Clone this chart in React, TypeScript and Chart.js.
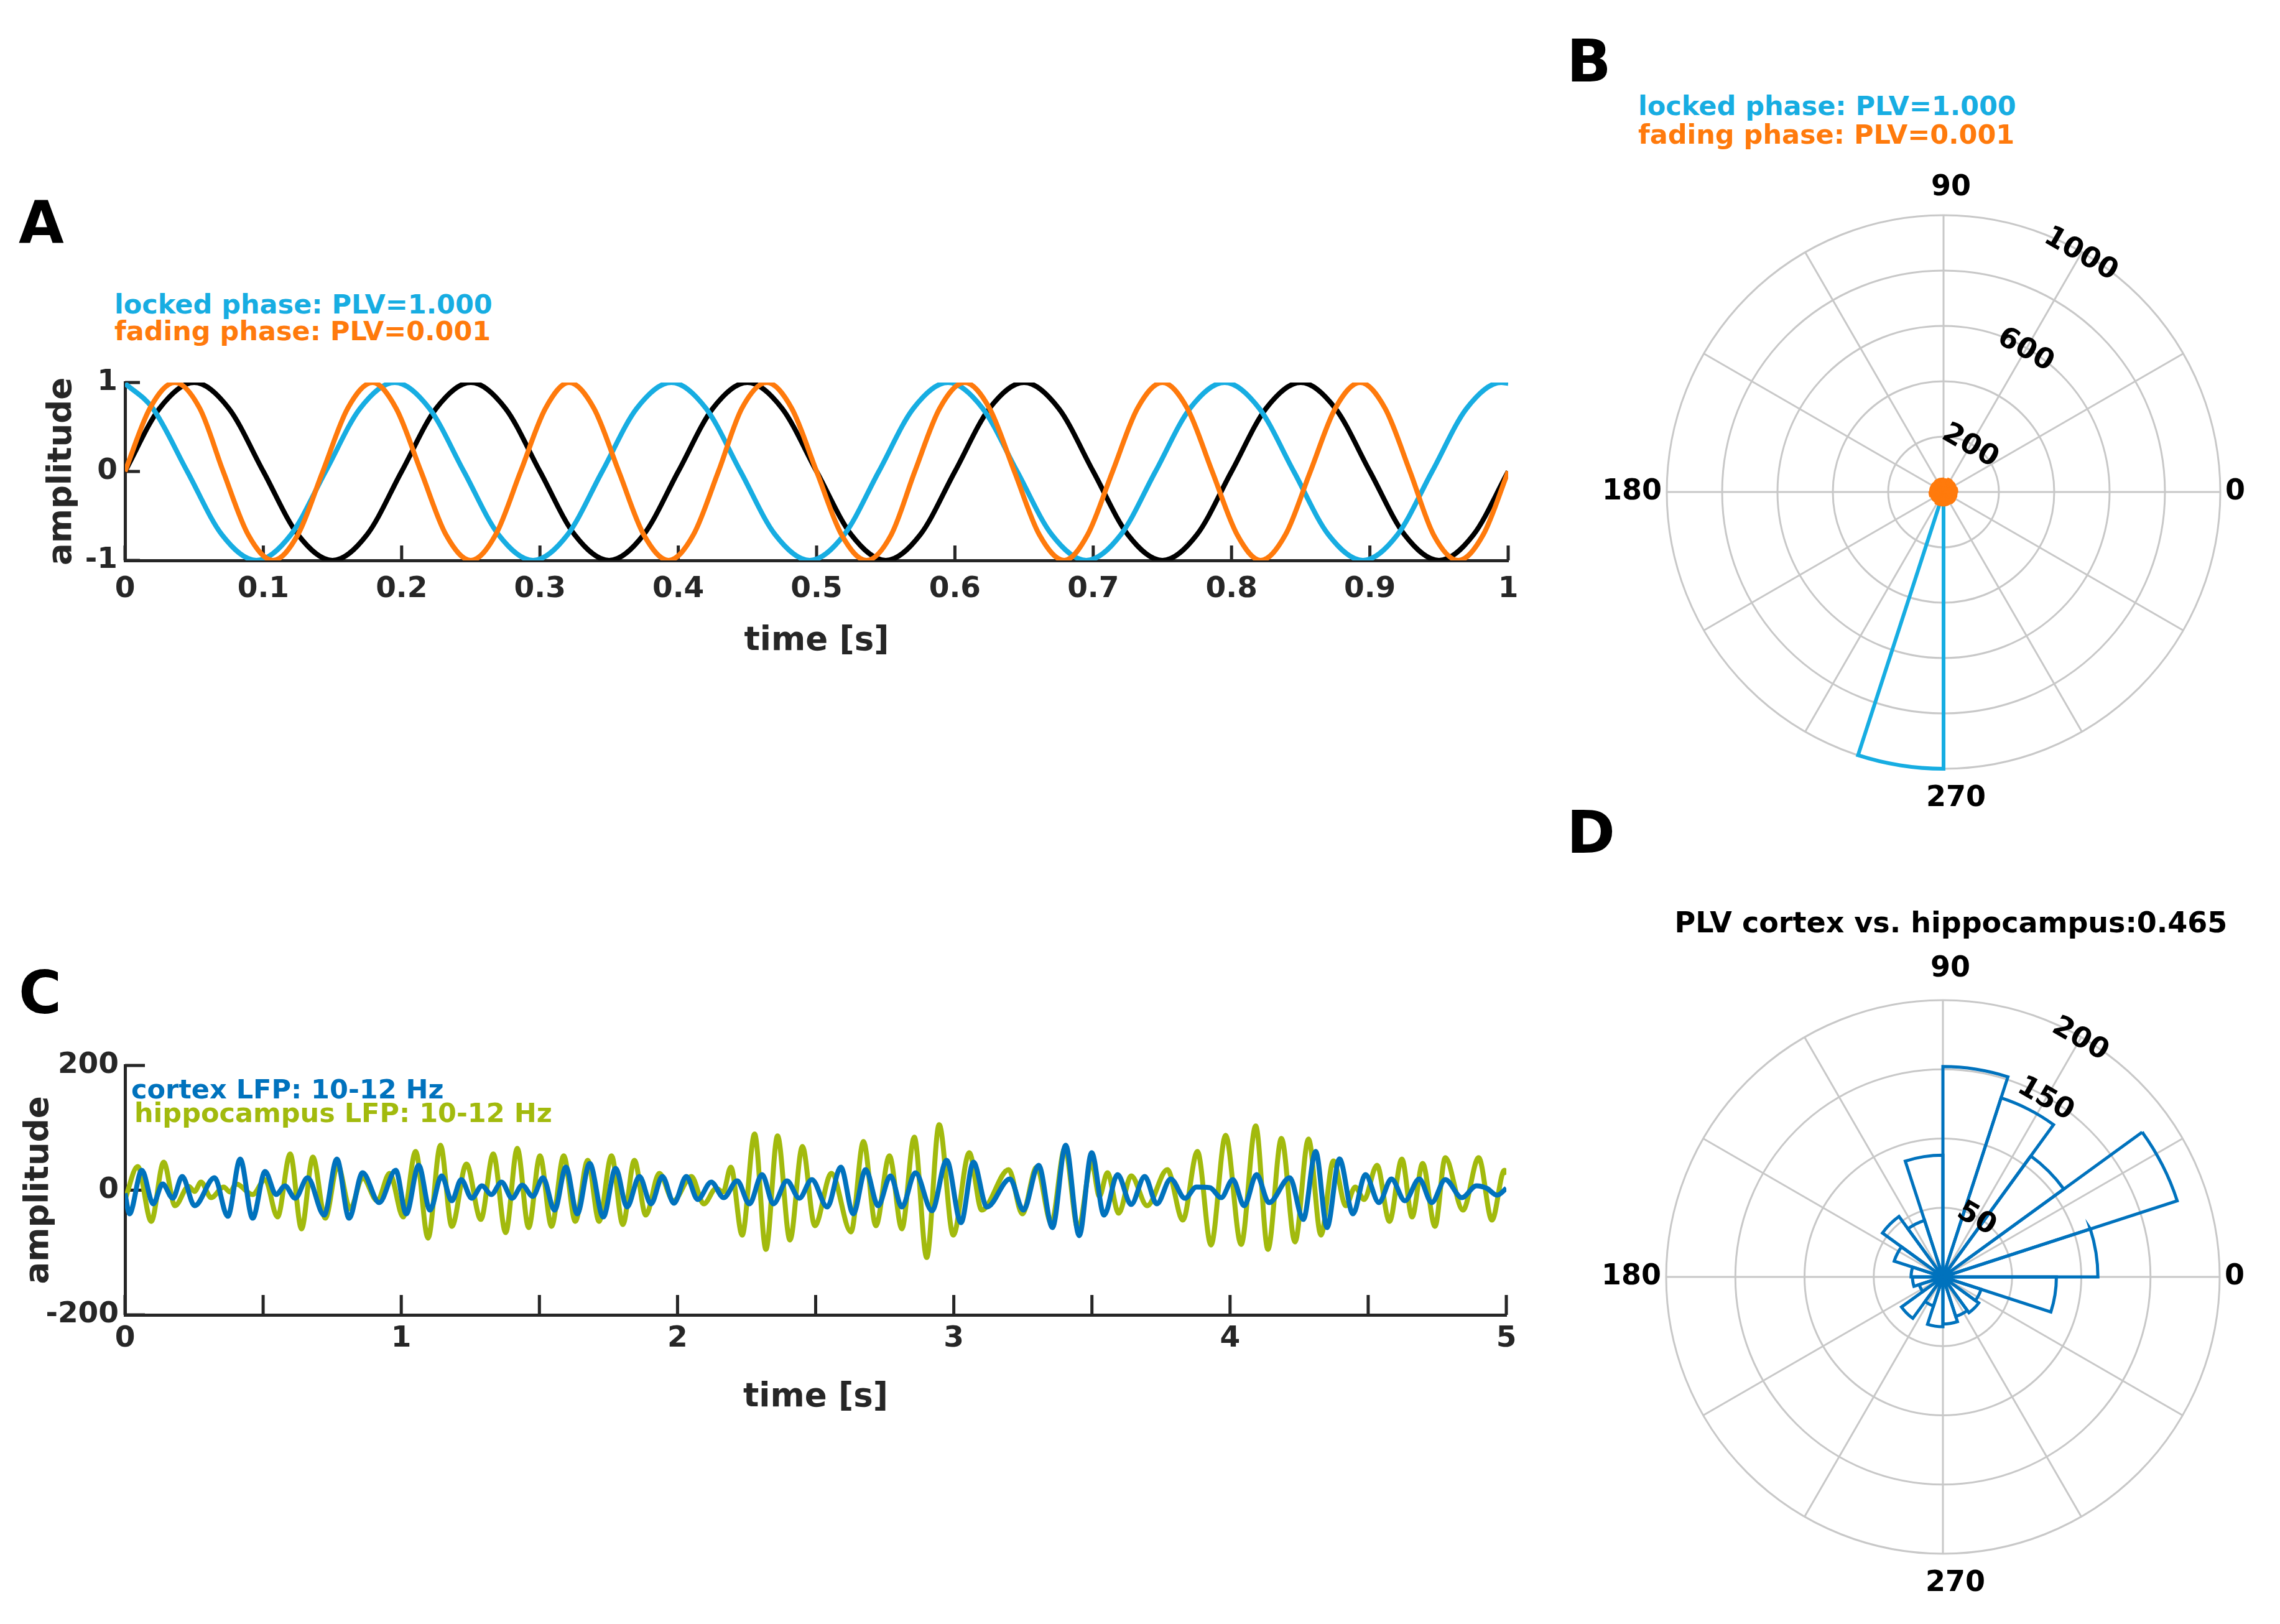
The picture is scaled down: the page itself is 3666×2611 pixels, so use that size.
import React, { useEffect, useRef } from 'react';
import { Chart, registerables } from 'chart.js';

Chart.register(...registerables);

const FONT = "'DejaVu Sans', Verdana, sans-serif";
const AXIS = '#262626';
const GRID = '#C8C8C8';
const CYAN = '#17ADE2';
const ORANGE = '#FF7A0C';
const BLUE = '#0072BD';
const OLIVE = '#A2BA0D';

// ---------- Panel A: 5 Hz reference, locked phase, fading phase (samples read every 1/8 cycle) ----------
const aBlackT = [
  0, 0.025, 0.05, 0.075, 0.1, 0.125, 0.15, 0.175,
  0.2, 0.225, 0.25, 0.275, 0.3, 0.325, 0.35, 0.375,
  0.4, 0.425, 0.45, 0.475, 0.5, 0.525, 0.55, 0.575,
  0.6, 0.625, 0.65, 0.675, 0.7, 0.725, 0.75, 0.775,
  0.8, 0.825, 0.85, 0.875, 0.9, 0.925, 0.95, 0.975,
  1.0,
];
const aBlackV = [
  0, 0.71, 1, 0.71, 0, -0.71, -1, -0.71,
  0, 0.71, 1, 0.71, 0, -0.71, -1, -0.71,
  0, 0.71, 1, 0.71, 0, -0.71, -1, -0.71,
  0, 0.71, 1, 0.71, 0, -0.71, -1, -0.71,
  0, 0.71, 1, 0.71, 0, -0.71, -1, -0.71,
  0,
];
const aCyanT = [
  0,
  0.02, 0.045, 0.07, 0.095, 0.12, 0.145, 0.17, 0.195,
  0.22, 0.245, 0.27, 0.295, 0.32, 0.345, 0.37, 0.395,
  0.42, 0.445, 0.47, 0.495, 0.52, 0.545, 0.57, 0.595,
  0.62, 0.645, 0.67, 0.695, 0.72, 0.745, 0.77, 0.795,
  0.82, 0.845, 0.87, 0.895, 0.92, 0.945, 0.97, 0.995,
  1.0,
];
const aCyanV = [
  0.99,
  0.71, 0, -0.71, -1, -0.71, 0, 0.71, 1,
  0.71, 0, -0.71, -1, -0.71, 0, 0.71, 1,
  0.71, 0, -0.71, -1, -0.71, 0, 0.71, 1,
  0.71, 0, -0.71, -1, -0.71, 0, 0.71, 1,
  0.71, 0, -0.71, -1, -0.71, 0, 0.71, 1,
  0.99,
];
const aOrangeT = [
  0, 0.018, 0.036, 0.054, 0.071, 0.089, 0.107, 0.125,
  0.143, 0.161, 0.179, 0.196, 0.214, 0.232, 0.25, 0.268,
  0.286, 0.304, 0.321, 0.339, 0.357, 0.375, 0.393, 0.411,
  0.429, 0.446, 0.464, 0.482, 0.5, 0.518, 0.536, 0.554,
  0.571, 0.589, 0.607, 0.625, 0.643, 0.661, 0.679, 0.696,
  0.714, 0.732, 0.75, 0.768, 0.786, 0.804, 0.821, 0.839,
  0.857, 0.875, 0.893, 0.911, 0.929, 0.946, 0.964, 0.982,
  1.0,
];
const aOrangeV = [
  0, 0.71, 1, 0.71, 0, -0.71, -1, -0.71,
  0, 0.71, 1, 0.71, 0, -0.71, -1, -0.71,
  0, 0.71, 1, 0.71, 0, -0.71, -1, -0.71,
  0, 0.71, 1, 0.71, 0, -0.71, -1, -0.71,
  0, 0.71, 1, 0.71, 0, -0.71, -1, -0.71,
  0, 0.71, 1, 0.71, 0, -0.71, -1, -0.71,
  0, 0.71, 1, 0.71, 0, -0.71, -1, -0.71,
  0,
];
const aXTicks = [0, 0.1, 0.2, 0.3, 0.4, 0.5, 0.6, 0.7, 0.8, 0.9, 1];
const aXTickLabels = ['0', '0.1', '0.2', '0.3', '0.4', '0.5', '0.6', '0.7', '0.8', '0.9', '1'];
const aYTicks = [-1, 0, 1];
const aYTickLabels = ['-1', '0', '1'];

// ---------- Panel C: cortex / hippocampus LFP (extrema) ----------
const cCortexT = [
  0, 0.016, 0.061, 0.102, 0.136, 0.173, 0.207, 0.252, 0.324, 0.372,
  0.417, 0.462, 0.507, 0.547, 0.579, 0.616, 0.661, 0.721, 0.767, 0.811,
  0.860, 0.920, 0.980, 1.018, 1.063, 1.104, 1.146, 1.183, 1.217, 1.255,
  1.292, 1.326, 1.363, 1.401, 1.438, 1.476, 1.513, 1.555, 1.596, 1.637,
  1.682, 1.731, 1.776, 1.817, 1.862, 1.904, 1.945, 1.987, 2.032, 2.073,
  2.122, 2.167, 2.216, 2.260, 2.306, 2.347, 2.396, 2.441, 2.486, 2.542,
  2.591, 2.636, 2.681, 2.726, 2.771, 2.812, 2.861, 2.921, 2.974, 3.026,
  3.071, 3.120, 3.203, 3.252, 3.307, 3.357, 3.405, 3.454, 3.499, 3.544,
  3.593, 3.642, 3.691, 3.735, 3.785, 3.837, 3.878, 3.927, 3.968, 4.010,
  4.051, 4.096, 4.141, 4.216, 4.265, 4.310, 4.351, 4.396, 4.445, 4.490,
  4.539, 4.584, 4.633, 4.685, 4.730, 4.779, 4.839, 4.892, 4.929, 4.967,
  5.0,
];
const cCortexV = [
  -5, -38, 32, -22, 10, -13, 22, -25, 20, -42,
  50, -45, 30, -7, 7, -13, 20, -40, 50, -45,
  28, -20, 32, -38, 40, -32, 23, -17, 17, -13,
  7, -7, 13, -13, 8, -10, 20, -32, 37, -38,
  43, -43, 35, -27, 22, -22, 22, -21, 22, -15,
  13, -12, 15, -22, 25, -22, 15, -13, 17, -27,
  37, -38, 33, -25, 23, -27, 28, -33, 48, -52,
  45, -27, 18, -32, 40, -60, 72, -73, 60, -40,
  25, -23, 22, -22, 18, -13, 5, 4, -12, 17,
  -25, 25, -20, 20, -47, 62, -60, 50, -38, 25,
  -20, 18, -17, 18, -20, 17, -12, 7, 3, -8,
  3,
];
const cHippoT = [
  0.000, 0.046, 0.095, 0.140, 0.181, 0.230, 0.252, 0.275, 0.312, 0.357,
  0.380, 0.402, 0.462, 0.507, 0.552, 0.598, 0.639, 0.680, 0.725, 0.770,
  0.815, 0.860, 0.913, 0.958, 1.007, 1.052, 1.097, 1.142, 1.183, 1.236,
  1.288, 1.333, 1.378, 1.420, 1.461, 1.502, 1.544, 1.588, 1.630, 1.675,
  1.716, 1.761, 1.802, 1.844, 1.885, 1.934, 1.985, 2.050, 2.095, 2.140,
  2.165, 2.193, 2.234, 2.279, 2.320, 2.362, 2.407, 2.452, 2.497, 2.557,
  2.628, 2.673, 2.718, 2.767, 2.812, 2.857, 2.902, 2.947, 2.998, 3.056,
  3.101, 3.199, 3.248, 3.300, 3.353, 3.402, 3.450, 3.499, 3.527, 3.556,
  3.597, 3.642, 3.700, 3.773, 3.829, 3.882, 3.931, 3.984, 4.040, 4.093,
  4.137, 4.186, 4.235, 4.284, 4.329, 4.374, 4.419, 4.453, 4.485, 4.532,
  4.577, 4.622, 4.659, 4.697, 4.742, 4.779, 4.843, 4.900, 4.948, 4.993,
  5.000,
];
const cHippoV = [
  -15, 38, -50, 45, -25, 6, -2, 13, -12, 5,
  -3, 10, -7, 17, -43, 58, -62, 53, -45, 40,
  -30, 20, -17, 27, -43, 62, -77, 72, -58, 42,
  -47, 58, -68, 67, -60, 55, -58, 55, -50, 48,
  -50, 55, -55, 48, -40, 27, -17, 22, -22, 3,
  -3, 37, -72, 90, -95, 87, -80, 70, -57, 27,
  -67, 78, -57, 55, -62, 85, -108, 105, -72, 60,
  -32, 33, -38, 37, -53, 67, -63, 45, -10, 28,
  -37, 23, -25, 33, -48, 62, -88, 88, -87, 103,
  -95, 83, -83, 82, -72, 47, -25, 5, -15, 40,
  -50, 50, -43, 43, -58, 52, -32, 52, -48, 32,
  25,
];
const cXTicks = [0, 1, 2, 3, 4, 5];
const cXTickLabels = ['0', '1', '2', '3', '4', '5'];
const cXTickMarks = [0, 0.5, 1, 1.5, 2, 2.5, 3, 3.5, 4, 4.5, 5];
const cYTicks = [-200, 0, 200];
const cYTickLabels = ['-200', '0', '200'];

// ---------- Polar histograms (20 bins of 18 deg, counter-clockwise from 0) ----------
const binStarts = ['0', '18', '36', '54', '72', '90', '108', '126', '144', '162', '180', '198', '216', '234', '252', '270', '288', '306', '324', '342'];
const bLocked = [0, 0, 0, 0, 0, 0, 0, 0, 0, 0, 0, 0, 0, 0, 1000, 0, 0, 0, 0, 0];
const bFading = [51, 49, 50, 52, 48, 50, 51, 49, 50, 50, 52, 49, 48, 51, 50, 50, 49, 51, 50, 49];
const dCounts = [112, 178, 108, 136, 152, 88, 43, 54, 37, 23, 22, 18, 37, 22, 36, 34, 30, 32, 29, 82];
const bRTicks = [200, 600, 1000];
const bRTickLabels = ['200', '600', '1000'];
const dRTicks = [50, 150, 200];
const dRTickLabels = ['50', '150', '200'];
const angleLabels = ['0', '90', '180', '270'];
const SPOKES = [0, 30, 60, 90, 120, 150, 180, 210, 240, 270, 300, 330];

const rev = <T,>(a: T[]) => a.slice().reverse();
const pts = (t: number[], v: number[]) => t.map((x, i) => ({ x, y: v[i] }));

function inwardTicks(xVals: number[], yVals: number[], len: number) {
  return {
    id: 'inwardTicks',
    beforeDatasetsDraw(chart: any) {
      const { ctx, chartArea, scales } = chart;
      ctx.save();
      ctx.strokeStyle = AXIS;
      ctx.lineWidth = 5;
      ctx.beginPath();
      xVals.forEach((v) => {
        const x = scales.x.getPixelForValue(v);
        ctx.moveTo(x, chartArea.bottom);
        ctx.lineTo(x, chartArea.bottom - len);
      });
      yVals.forEach((v) => {
        const y = scales.y.getPixelForValue(v);
        ctx.moveTo(chartArea.left, y);
        ctx.lineTo(chartArea.left + len, y);
      });
      ctx.stroke();
      ctx.restore();
    },
  };
}

function lineConfig(p: any) {
  const tickFont = { family: FONT, size: 47, weight: 'bold' as const };
  const titleFont = { family: FONT, size: 53, weight: 'bold' as const };
  return {
    type: 'line' as const,
    data: { datasets: p.datasets },
    options: {
      animation: false as const,
      responsive: false,
      devicePixelRatio: 1,
      layout: { padding: { left: 0, top: p.padTop, right: p.padRight, bottom: 0 } },
      plugins: { legend: { display: false }, tooltip: { enabled: false }, title: { display: false } },
      elements: { point: { radius: 0 } },
      scales: {
        x: {
          type: 'linear' as const,
          min: p.xMin,
          max: p.xMax,
          afterBuildTicks: (s: any) => { s.ticks = p.xTicks.map((v: number) => ({ value: v })); },
          afterFit: (s: any) => { s.height = p.bottomH; },
          ticks: { callback: (_v: any, i: number) => p.xLabels[i], padding: p.xTickPad, autoSkip: false, maxRotation: 0, font: tickFont, color: AXIS },
          grid: { display: false, drawTicks: false },
          border: { display: true, color: AXIS, width: 5 },
          title: { display: true, text: 'time [s]', font: titleFont, color: AXIS, padding: { top: 0, bottom: p.xTitlePad } },
        },
        y: {
          type: 'linear' as const,
          min: p.yMin,
          max: p.yMax,
          afterBuildTicks: (s: any) => { s.ticks = p.yTicks.map((v: number) => ({ value: v })); },
          afterFit: (s: any) => { s.width = p.leftW; },
          ticks: { callback: (_v: any, i: number) => p.yLabels[i], padding: p.yTickPad, font: tickFont, color: AXIS },
          grid: { display: false, drawTicks: false },
          border: { display: true, color: AXIS, width: 5 },
          title: { display: true, text: 'amplitude', font: titleFont, color: AXIS, padding: { top: p.yTitlePad, bottom: 0 } },
        },
      },
    },
    plugins: [inwardTicks(p.tickMarksX, p.tickMarksY, p.tickLen)],
  };
}

function polarDecor(rVals: number[], rLabels: string[], topOff: number) {
  return {
    id: 'polarDecor',
    beforeDatasetsDraw(chart: any) {
      const s = chart.scales.r;
      const ctx = chart.ctx;
      const R = s.getDistanceFromCenterForValue(s.max);
      ctx.save();
      ctx.strokeStyle = GRID;
      ctx.lineWidth = 3;
      ctx.beginPath();
      SPOKES.forEach((a) => {
        const rad = (a * Math.PI) / 180;
        ctx.moveTo(s.xCenter, s.yCenter);
        ctx.lineTo(s.xCenter + R * Math.cos(rad), s.yCenter - R * Math.sin(rad));
      });
      ctx.stroke();
      ctx.restore();
    },
    afterDraw(chart: any) {
      const s = chart.scales.r;
      const ctx = chart.ctx;
      const R = s.getDistanceFromCenterForValue(s.max);
      const xc = s.xCenter;
      const yc = s.yCenter;
      ctx.save();
      ctx.fillStyle = '#000';
      ctx.font = `bold 46px ${FONT}`;
      ctx.textBaseline = 'middle';
      ctx.textAlign = 'left';
      ctx.fillText(angleLabels[0], xc + R + 8, yc);
      ctx.textAlign = 'right';
      ctx.fillText(angleLabels[2], xc - R - 8, yc);
      ctx.textAlign = 'center';
      ctx.fillText(angleLabels[1], xc + 12, yc - R - topOff);
      ctx.fillText(angleLabels[3], xc + 20, yc + R + 48);
      rVals.forEach((v, i) => {
        const d = s.getDistanceFromCenterForValue(v) - 4;
        const a = (60 * Math.PI) / 180;
        ctx.save();
        ctx.translate(xc + d * Math.cos(a), yc - d * Math.sin(a));
        ctx.rotate(Math.PI / 6);
        ctx.textAlign = 'center';
        ctx.textBaseline = 'middle';
        ctx.fillText(rLabels[i], 0, 0);
        ctx.restore();
      });
      ctx.restore();
    },
  };
}

function polarConfig(p: any) {
  return {
    type: 'polarArea' as const,
    data: { labels: rev(binStarts), datasets: p.datasets },
    options: {
      animation: false as const,
      responsive: false,
      devicePixelRatio: 1,
      layout: { padding: p.padding },
      plugins: { legend: { display: false }, tooltip: { enabled: false }, title: { display: false } },
      elements: { arc: { borderJoinStyle: 'miter' as const, borderAlign: 'center' as const } },
      scales: {
        r: {
          min: 0,
          max: p.max,
          startAngle: 90,
          ticks: { display: false, stepSize: p.step },
          grid: { circular: true, color: GRID, lineWidth: 3 },
          angleLines: { display: false },
          pointLabels: { display: false },
        },
      },
    },
    plugins: [polarDecor(p.rVals, p.rLabels, p.topOff)],
  };
}

const T = (props: { children: React.ReactNode; left: number; top: number; size: number; color: string; style?: React.CSSProperties }) => (
  <div
    style={{
      position: 'absolute',
      left: props.left,
      top: props.top,
      fontSize: props.size,
      lineHeight: 1,
      fontWeight: 700,
      color: props.color,
      whiteSpace: 'nowrap',
      fontFamily: FONT,
      ...(props.style || {}),
    }}
  >
    {props.children}
  </div>
);

export default function App() {
  const aRef = useRef<HTMLCanvasElement>(null);
  const bRef = useRef<HTMLCanvasElement>(null);
  const cRef = useRef<HTMLCanvasElement>(null);
  const dRef = useRef<HTMLCanvasElement>(null);

  useEffect(() => {
    const charts: Chart[] = [];
    const aLine = { borderWidth: 8, cubicInterpolationMode: 'monotone', fill: false, pointRadius: 0 };
    charts.push(
      new Chart(aRef.current!, lineConfig({
        datasets: [
          { data: pts(aOrangeT, aOrangeV), borderColor: ORANGE, ...aLine },
          { data: pts(aCyanT, aCyanV), borderColor: CYAN, ...aLine },
          { data: pts(aBlackT, aBlackV), borderColor: '#000000', ...aLine },
        ],
        xMin: 0, xMax: 1, yMin: -1, yMax: 1,
        xTicks: aXTicks, xLabels: aXTickLabels, yTicks: aYTicks, yLabels: aYTickLabels,
        leftW: 201, bottomH: 219, padTop: 55, padRight: 55,
        xTickPad: 19, yTickPad: 12, xTitlePad: 57, yTitlePad: 68,
        tickMarksX: aXTicks, tickMarksY: aYTicks, tickLen: 24,
      }) as any)
    );
    charts.push(
      new Chart(cRef.current!, lineConfig({
        datasets: [
          { data: pts(cCortexT, cCortexV), borderColor: BLUE, borderWidth: 8, cubicInterpolationMode: 'monotone', fill: false, pointRadius: 0 },
          { data: pts(cHippoT, cHippoV), borderColor: OLIVE, borderWidth: 8, cubicInterpolationMode: 'monotone', fill: false, pointRadius: 0 },
        ],
        xMin: 0, xMax: 5, yMin: -200, yMax: 200,
        xTicks: cXTicks, xLabels: cXTickLabels, yTicks: cYTicks, yLabels: cYTickLabels,
        leftW: 201, bottomH: 266, padTop: 53, padRight: 58,
        xTickPad: 11, yTickPad: 10, xTitlePad: 101, yTitlePad: 31,
        tickMarksX: cXTickMarks, tickMarksY: cYTicks, tickLen: 32,
      }) as any)
    );
    charts.push(
      new Chart(bRef.current!, polarConfig({
        datasets: [
          { data: rev(bFading), backgroundColor: ORANGE, borderColor: ORANGE, borderWidth: 2 },
          { data: rev(bLocked), backgroundColor: 'rgba(0,0,0,0)', borderColor: CYAN, borderWidth: 6 },
        ],
        max: 1000, step: 200, rVals: bRTicks, rLabels: bRTickLabels, topOff: 44,
        padding: { left: 160, right: 80, top: 130, bottom: 130 },
      }) as any)
    );
    charts.push(
      new Chart(dRef.current!, polarConfig({
        datasets: [
          { data: rev(dCounts), backgroundColor: 'rgba(0,0,0,0)', borderColor: BLUE, borderWidth: 5 },
        ],
        max: 200, step: 50, rVals: dRTicks, rLabels: dRTickLabels, topOff: 50,
        padding: { left: 160, right: 80, top: 130, bottom: 100 },
      }) as any)
    );
    return () => charts.forEach((c) => c.destroy());
  }, []);

  return (
    <div style={{ position: 'fixed', left: 0, top: 0, width: 3666, height: 2611, overflow: 'hidden', background: '#ffffff' }}>
      <canvas ref={aRef} width={2480} height={560} style={{ position: 'absolute', left: 0, top: 560, width: 2480, height: 560 }} />
      <canvas ref={cRef} width={2480} height={720} style={{ position: 'absolute', left: 0, top: 1660, width: 2480, height: 720 }} />
      <canvas ref={bRef} width={1130} height={1150} style={{ position: 'absolute', left: 2520, top: 216, width: 1130, height: 1150 }} />
      <canvas ref={dRef} width={1130} height={1120} style={{ position: 'absolute', left: 2519, top: 1478, width: 1130, height: 1120 }} />

      <T left={30} top={312} size={94} color="#000">A</T>
      <T left={2519} top={52} size={94} color="#000">B</T>
      <T left={30} top={1550} size={94} color="#000">C</T>
      <T left={2519} top={1292} size={94} color="#000">D</T>

      <T left={184} top={468} size={43} color={CYAN}>locked phase: PLV=1.000</T>
      <T left={184} top={511} size={43} color={ORANGE}>fading phase: PLV=0.001</T>

      <T left={2634} top={149} size={43} color={CYAN}>locked phase: PLV=1.000</T>
      <T left={2634} top={195} size={43} color={ORANGE}>fading phase: PLV=0.001</T>

      <T left={211} top={1730} size={43} color={BLUE}>cortex LFP: 10-12 Hz</T>
      <T left={216} top={1768} size={43} color={OLIVE}>hippocampus LFP: 10-12 Hz</T>

      <T left={2437} top={1460} size={46} color="#000" style={{ width: 1400, textAlign: 'center' }}>PLV cortex vs. hippocampus:0.465</T>
    </div>
  );
}
